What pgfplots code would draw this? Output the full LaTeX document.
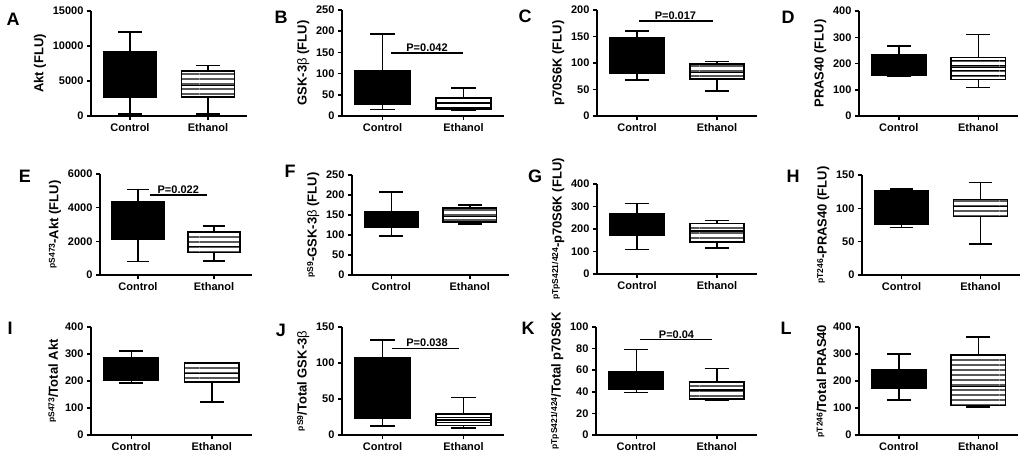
\documentclass[border=0pt]{standalone}
\usepackage{fontspec}
\setmainfont{Liberation Sans}
\usepackage{pgfplots}
\pgfplotsset{compat=1.18}
\usetikzlibrary{patterns}
\pgfdeclarepatternformonly{hstripes}{\pgfpointorigin}{\pgfqpoint{100pt}{4.5pt}}{\pgfqpoint{100pt}{4.5pt}}{
 \pgfsetlinewidth{1.4pt}
 \pgfpathmoveto{\pgfqpoint{0pt}{2.25pt}}
 \pgfpathlineto{\pgfqpoint{100pt}{2.25pt}}
 \pgfusepath{stroke}
}
\newcommand{\sps}[1]{\raisebox{3.5pt}{\fontsize{8.5}{9}\selectfont #1}}
\newcommand{\bet}{{\mdseries β}}
\pgfplotsset{
 prism/.style={
  scale only axis, axis lines=left, axis line style={-, line width=1.5pt},
  xmin=0.5, xmax=2.5, ymin=0, xtick={1,2}, xticklabels={Control,Ethanol},
  tick align=outside, major tick length=4pt, tick style={line width=1.5pt, black},
  every tick label/.append style={font=\fontsize{11}{12}\selectfont\bfseries},
  /pgf/number format/assume math mode=true,
  /pgf/number format/1000 sep={},
  scaled y ticks=false,
  ylabel style={font=\fontsize{13}{14}\selectfont\bfseries},
  clip=false,
  anchor=south west,
 },
 pline/.style={black, line width=1.5pt, mark=none, solid},
}
% args: lower whisker, lower quartile, median, upper quartile, upper whisker
\newcommand{\ctrlbox}[5]{%
 \addplot[pline] coordinates {(1,#1) (1,#5)};
 \addplot[pline] coordinates {(0.85,#1) (1.15,#1)};
 \addplot[pline] coordinates {(0.85,#5) (1.15,#5)};
 \addplot[draw=black, fill=black, line width=1.5pt, mark=none] coordinates {(0.66,#2) (1.34,#2) (1.34,#4) (0.66,#4)} -- cycle;
 \addplot[pline] coordinates {(0.66,#3) (1.34,#3)};
}
\newcommand{\etohbox}[5]{%
 \addplot[pline] coordinates {(2,#1) (2,#5)};
 \addplot[pline] coordinates {(1.85,#1) (2.15,#1)};
 \addplot[pline] coordinates {(1.85,#5) (2.15,#5)};
 \addplot[draw=black, fill=white, line width=1.5pt, mark=none, postaction={pattern=hstripes}] coordinates {(1.66,#2) (2.34,#2) (2.34,#4) (1.66,#4)} -- cycle;
 \addplot[pline] coordinates {(1.66,#3) (2.34,#3)};
}
\tikzset{plabel/.style={font=\fontsize{11}{12}\selectfont\bfseries, anchor=south, inner sep=1pt},
 letter/.style={font=\fontsize{18}{18}\selectfont\bfseries}}
\begin{document}
\begin{tikzpicture}
\useasboundingbox (0,0) rectangle (1024pt,456pt);
% ---------- Row 1 ----------
\begin{axis}[prism, at={(91pt,340pt)}, width=156pt, height=105pt, ymax=15000, ytick={0,5000,10000,15000}, ylabel={Akt (FLU)}]
\ctrlbox{290}{2680}{5500}{9200}{11980}
\etohbox{290}{2680}{4360}{6420}{7235}
\end{axis}
\begin{axis}[prism, at={(342pt,340pt)}, width=162pt, height=106pt, ymax=250, ytick={0,50,...,250}, ylabel={GSK-3\bet{} (FLU)}]
\ctrlbox{15}{28}{60}{107}{193}
\etohbox{14}{17}{29}{42}{66}
\addplot[pline] coordinates {(1.1,149) (1.99,149)};
\node[plabel] at (axis cs:1.55,150) {P=0.042};
\end{axis}
\begin{axis}[prism, at={(597pt,340pt)}, width=160pt, height=106pt, ymax=200, ytick={0,50,...,200}, ylabel={p70S6K (FLU)}]
\ctrlbox{67.7}{81.5}{110}{147}{160.5}
\etohbox{47.6}{70}{82}{98}{103}
\addplot[pline] coordinates {(1.03,179) (1.95,179)};
\node[plabel] at (axis cs:1.48,180) {P=0.017};
\end{axis}
\begin{axis}[prism, at={(859pt,340pt)}, width=159pt, height=105pt, ymax=400, ytick={0,100,...,400}, ylabel={PRAS40 (FLU)}]
\ctrlbox{151}{156}{190}{235}{266}
\etohbox{108.5}{140}{185}{223}{310}
\end{axis}
% ---------- Row 2 ----------
\begin{axis}[prism, at={(100pt,181pt)}, width=152pt, height=101pt, ymax=6000, ytick={0,2000,4000,6000}, ylabel={\sps{pS473}-Akt (FLU)}]
\ctrlbox{815}{2106}{3000}{4331}{5066}
\etohbox{834}{1351}{1690}{2563}{2921}
\addplot[pline] coordinates {(1.16,4749) (1.91,4749)};
\node[plabel] at (axis cs:1.53,4760) {P=0.022};
\end{axis}
\begin{axis}[prism, at={(352pt,181pt)}, width=157pt, height=100pt, ymax=250, ytick={0,50,...,250}, ylabel={\sps{pS9}-GSK-3\bet{} (FLU)}]
\ctrlbox{97}{120}{140}{159}{207}
\etohbox{128}{132.5}{146}{168}{175}
\end{axis}
\begin{axis}[prism, at={(597pt,182pt)}, width=160pt, height=90pt, ymax=400, ytick={0,100,...,400}, ylabel={\sps{pTpS421/424}-p70S6K (FLU)}]
\ctrlbox{110}{173}{220}{267}{313}
\etohbox{116}{143}{191}{225}{237}
\end{axis}
\begin{axis}[prism, at={(862pt,181pt)}, width=158pt, height=100pt, ymax=150, ytick={0,50,...,150}, ylabel={\sps{pT246}-PRAS40 (FLU)}]
\ctrlbox{71}{76.5}{100}{126}{129}
\etohbox{46.5}{88}{102.5}{113.5}{138.5}
\end{axis}
% ---------- Row 3 ----------
\begin{axis}[prism, at={(91pt,21pt)}, width=161pt, height=108pt, ymax=400, ytick={0,100,...,400}, ylabel={\sps{pS473}/Total Akt}]
\ctrlbox{192}{203}{240}{286}{311}
\etohbox{123}{196}{227}{266}{269}
\end{axis}
\begin{axis}[prism, at={(342pt,21pt)}, width=162pt, height=108pt, ymax=150, ytick={0,50,...,150}, ylabel={\sps{pS9}/Total GSK-3\bet}]
\ctrlbox{12.5}{23}{60}{107}{132}
\etohbox{10}{13}{21}{29.5}{52}
\addplot[pline] coordinates {(1.12,120) (1.94,120)};
\node[plabel] at (axis cs:1.55,121) {P=0.038};
\end{axis}
\begin{axis}[prism, at={(596pt,21pt)}, width=161pt, height=108pt, ymax=100, ytick={0,20,...,100}, ylabel={\sps{pTpS421/424}/Total p70S6K}]
\ctrlbox{39.4}{42.5}{50}{59}{79.4}
\etohbox{32}{33.2}{41.5}{49}{61.8}
\addplot[pline] coordinates {(1.05,88.3) (1.94,88.3)};
\node[plabel] at (axis cs:1.5,88.6) {P=0.04};
\end{axis}
\begin{axis}[prism, at={(859pt,21pt)}, width=159pt, height=108pt, ymax=400, ytick={0,100,...,400}, ylabel={\sps{pT246}/Total PRAS40}]
\ctrlbox{130}{173}{210}{243}{300}
\etohbox{104}{109}{180}{296}{363}
\end{axis}
% ---------- Panel letters ----------
\node[letter] at (13pt,437pt) {A};
\node[letter] at (281pt,439pt) {B};
\node[letter] at (525pt,440pt) {C};
\node[letter] at (788pt,439pt) {D};
\node[letter] at (25pt,280pt) {E};
\node[letter] at (290pt,285pt) {F};
\node[letter] at (535pt,280pt) {G};
\node[letter] at (793pt,280pt) {H};
\node[letter] at (10pt,128pt) {I};
\node[letter] at (281pt,126pt) {J};
\node[letter] at (528pt,128pt) {K};
\node[letter] at (786pt,128pt) {L};
\end{tikzpicture}
\end{document}
